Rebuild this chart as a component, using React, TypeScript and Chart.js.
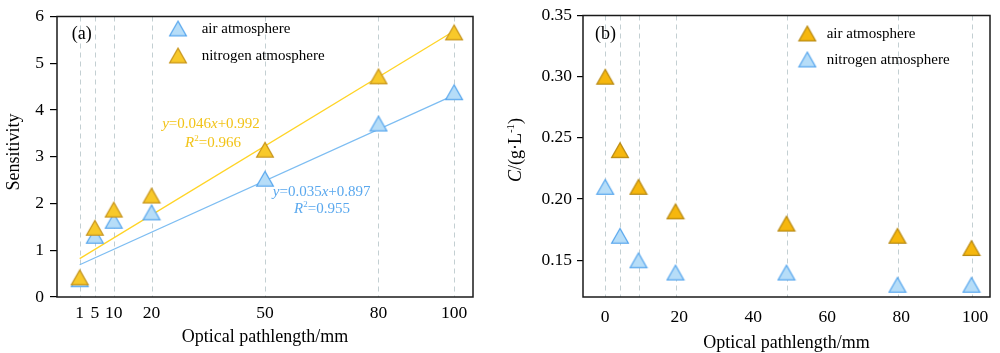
import React, { useEffect, useRef } from 'react';
import { Chart, registerables } from 'chart.js';

Chart.register(...registerables);

const FONT = "'Liberation Serif', 'Times New Roman', serif";

// ---------- Panel (a): sensitivity vs optical pathlength ----------
const pathA = [1, 5, 10, 20, 50, 80, 100];
const airSensA = [0.38, 1.31, 1.63, 1.81, 2.53, 3.71, 4.38];
const n2SensA = [0.42, 1.48, 1.87, 2.17, 3.15, 4.72, 5.66];
const airFitX = [1, 100];
const airFitY = [0.69, 4.32];
const n2FitX = [1, 100];
const n2FitY = [0.82, 5.69];
const xTicksA = [1, 5, 10, 20, 50, 80, 100];
const yTicksA = [0, 1, 2, 3, 4, 5, 6];

// ---------- Panel (b): C vs optical pathlength ----------
const pathB = [0, 4, 9, 19, 49, 79, 99];
const airConcB = [0.3, 0.24, 0.21, 0.19, 0.18, 0.17, 0.16];
const n2ConcB = [0.21, 0.17, 0.15, 0.14, 0.14, 0.13, 0.13];
const xTicksB = [0, 20, 40, 60, 80, 100];
const yTicksB = [0.15, 0.2, 0.25, 0.3, 0.35];

const LBL_AIR = 'air atmosphere';
const LBL_N2 = 'nitrogen atmosphere';

type Seg = { t: string; i?: boolean; sup?: boolean };

function drawRich(ctx: CanvasRenderingContext2D, segs: Seg[], x: number, y: number, size: number, color: string, align: 'center' | 'left' = 'center') {
  const fontOf = (s: Seg) => `${s.i ? 'italic ' : ''}${s.sup ? Math.round(size * 0.62) : size}px ${FONT}`;
  let w = 0;
  for (const s of segs) {
    ctx.font = fontOf(s);
    w += ctx.measureText(s.t).width;
  }
  let cx = align === 'center' ? x - w / 2 : x;
  const base = y + size * 0.33;
  ctx.fillStyle = color;
  ctx.textBaseline = 'alphabetic';
  ctx.textAlign = 'left';
  for (const s of segs) {
    ctx.font = fontOf(s);
    ctx.fillText(s.t, cx, s.sup ? base - size * 0.4 : base);
    cx += ctx.measureText(s.t).width;
  }
}

function makeTri(fill: string, stroke: string): HTMLCanvasElement {
  const c = document.createElement('canvas');
  c.width = 20;
  c.height = 18;
  const g = c.getContext('2d')!;
  g.beginPath();
  g.moveTo(10, 1.6);
  g.lineTo(18.4, 16.4);
  g.lineTo(1.6, 16.4);
  g.closePath();
  g.fillStyle = fill;
  g.fill();
  g.lineWidth = 1.2;
  g.strokeStyle = stroke;
  g.stroke();
  return c;
}

const pts = (xs: number[], ys: number[]) => xs.map((x, k) => ({ x, y: ys[k] }));

function makeDecor(opts: {
  xs: number[];
  panel: string;
  panelPos: [number, number];
  legend: { img: HTMLCanvasElement; label: string; y: number }[];
  legendX: number;
  textX: number;
  yTitle: Seg[];
  yTitlePos: [number, number];
  xTitleY: number;
  notes: { segs: Seg[]; x: number; y: number; color: string }[];
}) {
  return {
    id: 'decor' + opts.panel,
    beforeDatasetsDraw(chart: any) {
      const { ctx, chartArea } = chart;
      const xs = chart.scales.x;
      ctx.save();
      ctx.strokeStyle = '#c3cfd2';
      ctx.lineWidth = 1;
      ctx.setLineDash([5, 4]);
      for (const v of opts.xs) {
        const px = Math.round(xs.getPixelForValue(v)) + 0.5;
        ctx.beginPath();
        ctx.moveTo(px, chartArea.top);
        ctx.lineTo(px, chartArea.bottom);
        ctx.stroke();
      }
      ctx.restore();
    },
    afterDraw(chart: any) {
      const { ctx, chartArea } = chart;
      ctx.save();
      ctx.strokeStyle = '#1a1a1a';
      ctx.lineWidth = 1.5;
      ctx.setLineDash([]);
      ctx.strokeRect(chartArea.left, chartArea.top, chartArea.right - chartArea.left, chartArea.bottom - chartArea.top);
      drawRich(ctx, [{ t: opts.panel }], opts.panelPos[0], opts.panelPos[1], 18, '#000');
      for (const it of opts.legend) {
        ctx.drawImage(it.img, opts.legendX - it.img.width / 2, it.y - it.img.height / 2);
        drawRich(ctx, [{ t: it.label }], opts.textX, it.y, 15, '#000', 'left');
      }
      for (const n of opts.notes) {
        drawRich(ctx, n.segs, n.x, n.y, 15, n.color);
      }
      drawRich(ctx, [{ t: 'Optical pathlength/mm' }], (chartArea.left + chartArea.right) / 2, opts.xTitleY, 18, '#000');
      ctx.translate(opts.yTitlePos[0], opts.yTitlePos[1]);
      ctx.rotate(-Math.PI / 2);
      drawRich(ctx, opts.yTitle, 0, 0, 18, '#000');
      ctx.restore();
    },
  };
}

export default function App() {
  const refA = useRef<HTMLCanvasElement>(null);
  const refB = useRef<HTMLCanvasElement>(null);

  useEffect(() => {
    const blueA = makeTri('#b6ddf8', '#5aa8ee');
    const yellowA = makeTri('#f8c92a', '#c8961e');
    const blueB = makeTri('#b6ddf8', '#5aa8ee');
    const orangeB = makeTri('#f6b70d', '#b98a12');

    const tickFont = { family: FONT, size: 17.5 };

    const chartA = new Chart(refA.current!, {
      type: 'scatter',
      data: {
        datasets: [
          { label: LBL_N2, data: pts(pathA, n2SensA), pointStyle: yellowA as any, pointRadius: 9, order: 1 },
          { label: LBL_AIR, data: pts(pathA, airSensA), pointStyle: blueA as any, pointRadius: 9, order: 2 },
          { label: 'fit N2', data: pts(n2FitX, n2FitY), showLine: true, pointRadius: 0, borderColor: '#ffd426', borderWidth: 1.3, order: 3 },
          { label: 'fit air', data: pts(airFitX, airFitY), showLine: true, pointRadius: 0, borderColor: '#7dbdf2', borderWidth: 1.3, order: 4 },
        ],
      },
      options: {
        animation: false,
        responsive: false,
        devicePixelRatio: 1,
        layout: { padding: { top: 14, right: 22, left: 0, bottom: 0 } },
        plugins: { legend: { display: false }, tooltip: { enabled: false } },
        scales: {
          x: {
            type: 'linear',
            min: -5,
            max: 105,
            afterFit: (s: any) => { s.height = 56; },
            afterBuildTicks: (s: any) => { s.ticks = xTicksA.map((v) => ({ value: v })); },
            grid: { display: false, drawTicks: false },
            border: { display: false },
            ticks: { font: tickFont, color: '#000', padding: 5.5, maxRotation: 0, autoSkip: false },
          },
          y: {
            type: 'linear',
            min: 0,
            max: 6,
            afterFit: (s: any) => { s.width = 57; },
            afterBuildTicks: (s: any) => { s.ticks = yTicksA.map((v) => ({ value: v })); },
            grid: { display: true, drawOnChartArea: false, drawTicks: true, tickLength: 7, color: '#000', lineWidth: 1.2 },
            border: { display: false },
            ticks: { font: tickFont, color: '#000', padding: 6 },
          },
        },
      },
      plugins: [
        makeDecor({
          xs: pathA,
          panel: '(a)',
          panelPos: [81.7, 33.3],
          legend: [
            { img: blueA, label: LBL_AIR, y: 28.5 },
            { img: yellowA, label: LBL_N2, y: 55.5 },
          ],
          legendX: 178,
          textX: 201.7,
          yTitle: [{ t: 'Sensitivity' }],
          yTitlePos: [13, 152],
          xTitleY: 335.7,
          notes: [
            { segs: [{ t: 'y', i: true }, { t: '=0.046' }, { t: 'x', i: true }, { t: '+0.992' }], x: 211, y: 122.7, color: '#f2c318' },
            { segs: [{ t: 'R', i: true }, { t: '2', sup: true }, { t: '=0.966' }], x: 213, y: 141.7, color: '#f2c318' },
            { segs: [{ t: 'y', i: true }, { t: '=0.035' }, { t: 'x', i: true }, { t: '+0.897' }], x: 321.7, y: 190.7, color: '#5aa8ee' },
            { segs: [{ t: 'R', i: true }, { t: '2', sup: true }, { t: '=0.955' }], x: 322, y: 208.3, color: '#5aa8ee' },
          ],
        }),
      ],
    } as any);

    const chartB = new Chart(refB.current!, {
      type: 'scatter',
      data: {
        datasets: [
          { label: LBL_AIR, data: pts(pathB, airConcB), pointStyle: orangeB as any, pointRadius: 9, order: 1 },
          { label: LBL_N2, data: pts(pathB, n2ConcB), pointStyle: blueB as any, pointRadius: 9, order: 2 },
        ],
      },
      options: {
        animation: false,
        responsive: false,
        devicePixelRatio: 1,
        layout: { padding: { top: 14, right: 1, left: 0, bottom: 0 } },
        plugins: { legend: { display: false }, tooltip: { enabled: false } },
        scales: {
          x: {
            type: 'linear',
            min: -6,
            max: 104,
            afterFit: (s: any) => { s.height = 56; },
            afterBuildTicks: (s: any) => { s.ticks = xTicksB.map((v) => ({ value: v })); },
            grid: { display: false, drawTicks: false },
            border: { display: false },
            ticks: { font: tickFont, color: '#000', padding: 10, maxRotation: 0, autoSkip: false },
          },
          y: {
            type: 'linear',
            min: 0.12,
            max: 0.35,
            afterFit: (s: any) => { s.width = 88; },
            afterBuildTicks: (s: any) => { s.ticks = yTicksB.map((v) => ({ value: v })); },
            grid: { display: true, drawOnChartArea: false, drawTicks: true, tickLength: 6, color: '#000', lineWidth: 1.2 },
            border: { display: false },
            ticks: { font: tickFont, color: '#000', padding: 5, callback: (v: any) => Number(v).toFixed(2) },
          },
        },
      },
      plugins: [
        makeDecor({
          xs: pathB,
          panel: '(b)',
          panelPos: [110.5, 33.3],
          legend: [
            { img: orangeB, label: LBL_AIR, y: 33.5 },
            { img: blueB, label: LBL_N2, y: 59.5 },
          ],
          legendX: 312.3,
          textX: 331.7,
          yTitle: [{ t: 'C', i: true }, { t: '/(g·L' }, { t: '-1', sup: true }, { t: ')' }],
          yTitlePos: [20, 150],
          xTitleY: 341.7,
          notes: [],
        }),
      ],
    } as any);

    return () => {
      chartA.destroy();
      chartB.destroy();
    };
  }, []);

  return (
    <div style={{ position: 'absolute', left: 0, top: 0, width: 1000, height: 353, background: '#fff' }}>
      <canvas ref={refA} width={495} height={353} style={{ position: 'absolute', left: 0, top: 0, width: 495, height: 353 }} />
      <canvas ref={refB} width={505} height={353} style={{ position: 'absolute', left: 495, top: 0, width: 505, height: 353 }} />
    </div>
  );
}
